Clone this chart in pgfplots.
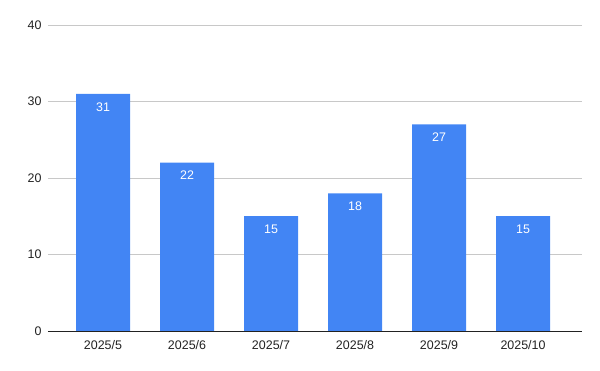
\documentclass[border=0pt]{standalone}
\usepackage{pgfplots}
\pgfplotsset{compat=1.18}
\usepackage{fontspec}
\setmainfont{Liberation Sans}
\definecolor{barblue}{HTML}{4285F4}
\definecolor{gridgray}{HTML}{C8C8C8}
\definecolor{txt}{HTML}{222222}
\begin{document}
\begin{tikzpicture}
\useasboundingbox (0,0) rectangle (600bp,371bp);
\begin{axis}[
  at={(48bp,40bp)}, anchor=south west,
  scale only axis, width=534bp, height=306bp,
  xmin=-0.655, xmax=5.702, ymin=0, ymax=40,
  ytick={0,10,20,30,40},
  xtick={0,1,2,3,4,5},
  xticklabels={2025/5,2025/6,2025/7,2025/8,2025/9,2025/10},
  ymajorgrids, grid style={gridgray, line width=0.8pt},
  axis x line*=bottom, axis y line*=left,
  y axis line style={draw=none},
  x axis line style={txt, line width=0.8pt, -},
  major tick length=0pt,
  tick label style={font=\fontsize{12.5}{14}\selectfont, text=txt},
  /pgf/number format/assume math mode=true,
  yticklabel style={xshift=-3bp},
  xticklabel style={yshift=-6bp},
  ybar, bar width=54bp,
  nodes near coords,
  every node near coord/.append style={anchor=north, yshift=-5bp, text=white, font=\fontsize{12.5}{14}\selectfont},
  clip=false,
]
\addplot[fill=barblue, draw=none] coordinates {(0,31) (1,22) (2,15) (3,18) (4,27) (5,15)};
\end{axis}
\end{tikzpicture}
\end{document}
